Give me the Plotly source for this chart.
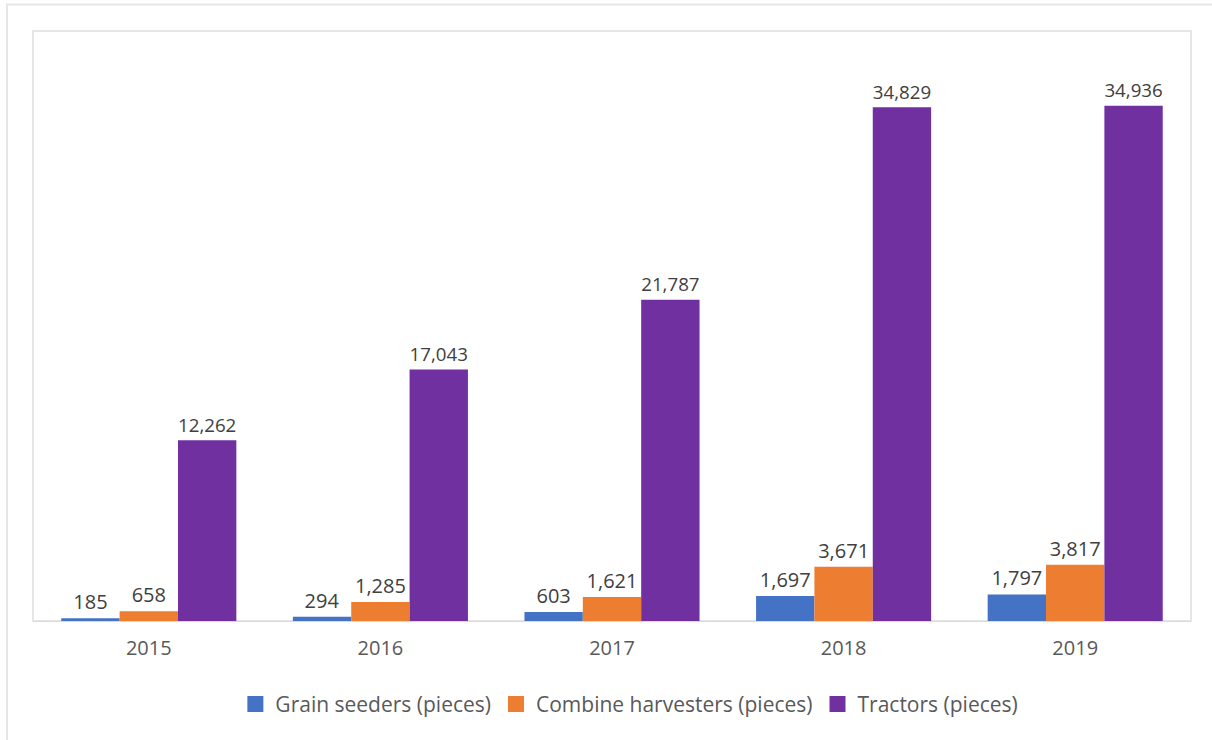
import plotly.graph_objects as go

years = ["2015", "2016", "2017", "2018", "2019"]
grain_seeders = [185, 294, 603, 1697, 1797]
combine_harvesters = [658, 1285, 1621, 3671, 3817]
tractors = [12262, 17043, 21787, 34829, 34936]

series = [
    ("Grain seeders (pieces)", grain_seeders, "#4472C4"),
    ("Combine harvesters (pieces)", combine_harvesters, "#ED7D31"),
    ("Tractors (pieces)", tractors, "#7030A0"),
]

FONT = "Open Sans"
fig = go.Figure()
for name, vals, color in series:
    fig.add_trace(go.Bar(
        name=name, x=years, y=vals,
        marker=dict(color=color, line=dict(width=0)),
        text=[f"{v:,}" for v in vals],
        textposition="outside",
        textfont=dict(size=20, color="#404040", family=FONT),
        cliponaxis=False,
        showlegend=False,
    ))
# legend entries with large square swatches
for name, vals, color in series:
    fig.add_trace(go.Scatter(
        name=name, x=[None], y=[None], mode="markers",
        marker=dict(symbol="square", size=16, color=color),
        showlegend=True,
    ))

W, H = 1212, 740
L, R, T, B = 33, 21, 31, 118.5
pw, ph = W - L - R, H - T - B

def px_x(x):
    return (x - L) / pw

def px_y(y):
    return (H - B - y) / ph

fig.update_layout(
    width=W, height=H,
    margin=dict(l=L, r=R, t=T, b=B),
    paper_bgcolor="white", plot_bgcolor="white",
    barmode="group", bargap=0.244, bargroupgap=0,
    font=dict(family=FONT, size=20, color="#595959"),
    showlegend=True,
    legend=dict(orientation="h", x=0.515, xanchor="center", y=px_y(705), yanchor="middle",
                font=dict(size=21, color="#595959", family=FONT), itemwidth=30,
                itemsizing="trace", traceorder="normal"),
    xaxis=dict(showgrid=False, showline=True, linecolor="#D9D9D9", linewidth=1,
               ticks="", tickfont=dict(size=20, color="#595959"), ticklabelstandoff=9),
    yaxis=dict(range=[0, 40000], visible=False, showgrid=False),
    shapes=[
        dict(type="rect", xref="paper", yref="paper", x0=0, x1=1, y0=0, y1=1,
             line=dict(color="#E6E6E6", width=2), layer="below"),
        dict(type="rect", xref="paper", yref="paper", x0=px_x(7), x1=px_x(1230),
             y0=px_y(760), y1=px_y(4.5), line=dict(color="#E6E6E6", width=2), layer="below"),
    ],
)

fig.write_html("out.html")
